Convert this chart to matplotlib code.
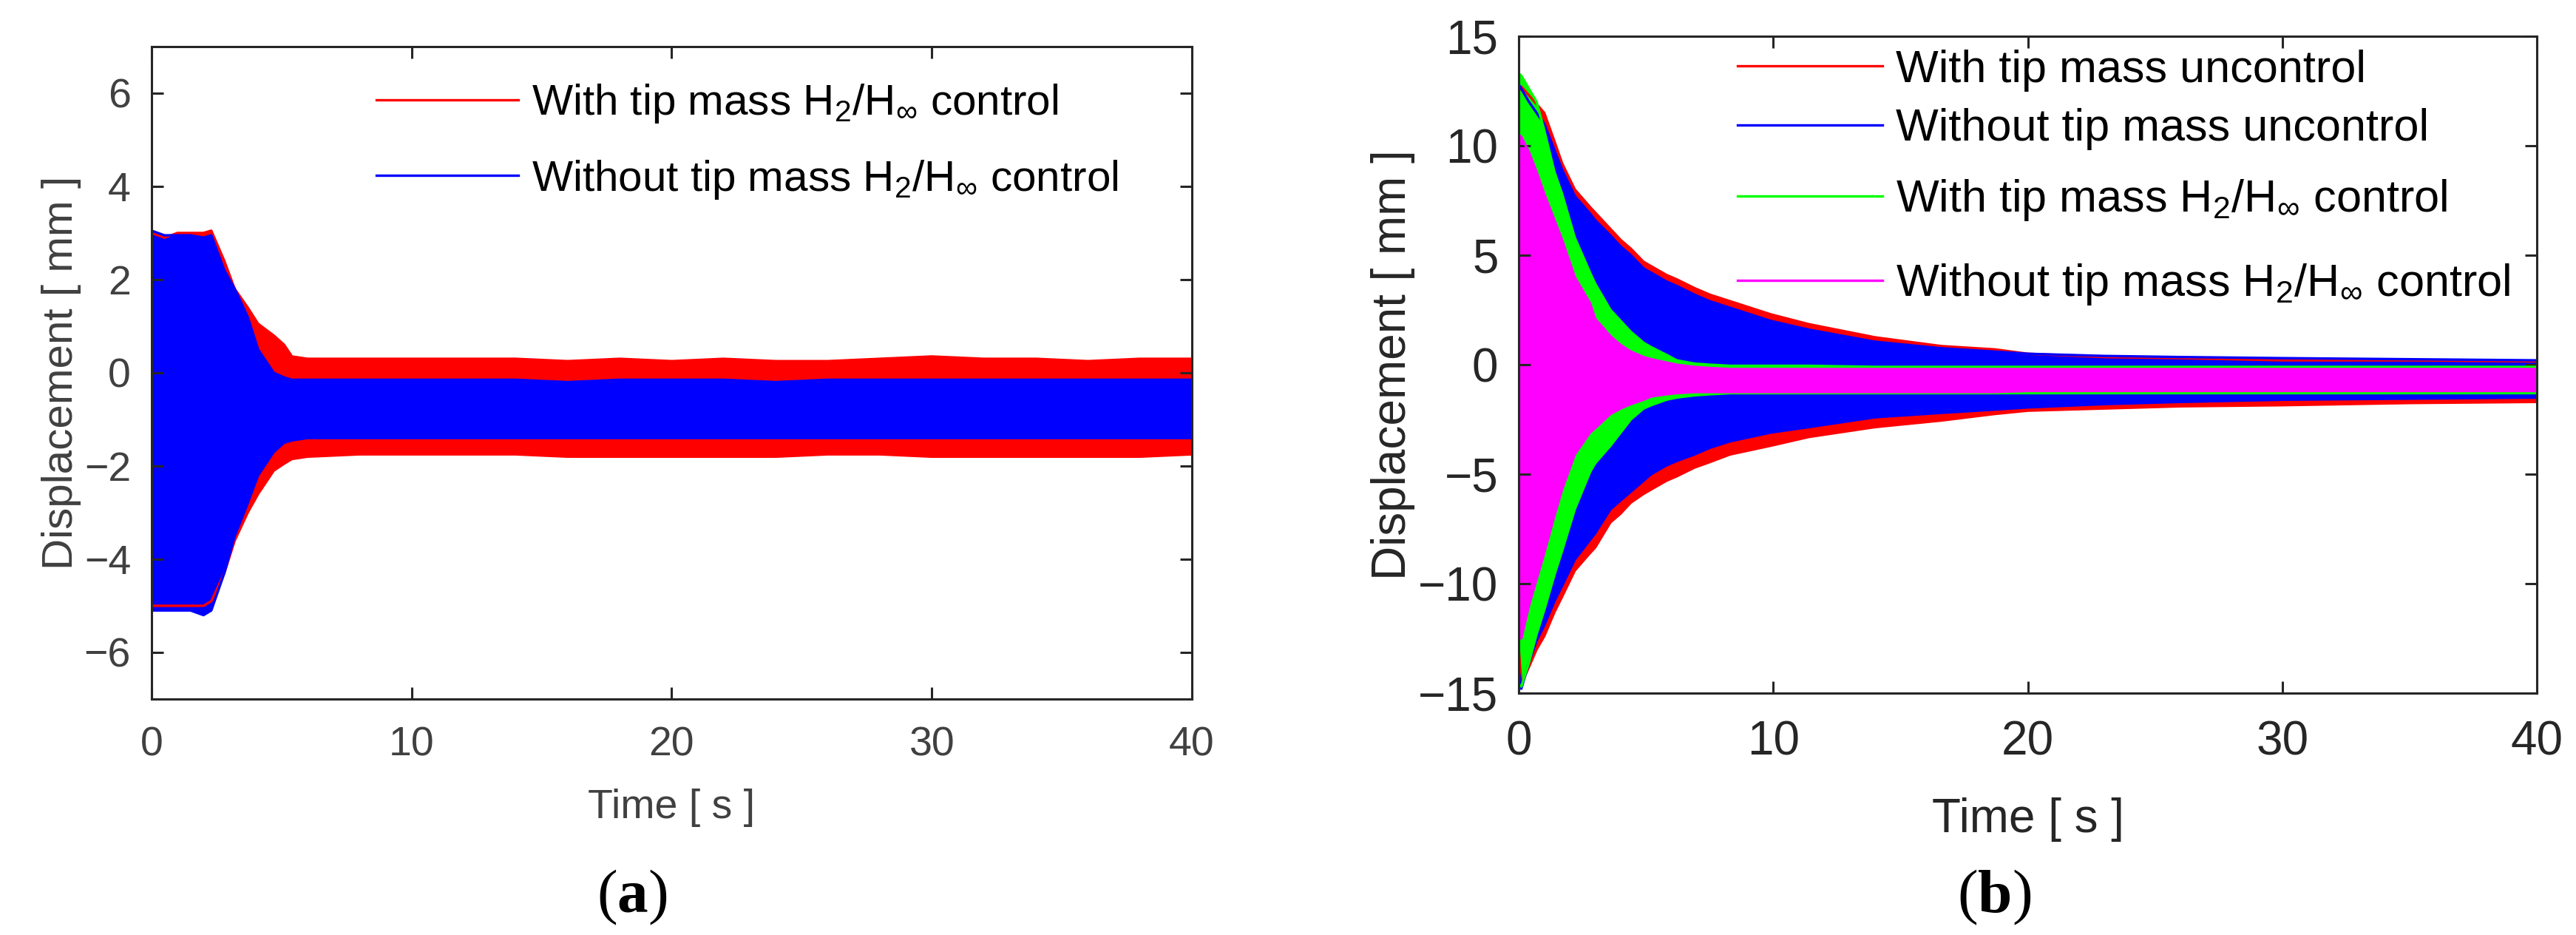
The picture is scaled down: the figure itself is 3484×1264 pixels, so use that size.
import numpy as np
import matplotlib
matplotlib.use("Agg")
import matplotlib.pyplot as plt

plt.rcParams['font.family'] = ['Liberation Sans', 'DejaVu Sans']
plt.rcParams['mathtext.fontset'] = 'custom'
plt.rcParams['mathtext.rm'] = 'Liberation Sans'
plt.rcParams['mathtext.it'] = 'Liberation Sans:italic'
plt.rcParams['mathtext.bf'] = 'Liberation Serif:bold'

# ---- panel (a): envelopes of the controlled responses ----
t_a = [0, 0.5, 1.0, 1.5, 2.0, 2.3, 2.8, 3.2, 3.7, 4.1, 4.7, 5.1, 5.4, 6, 8, 10,
       12, 14, 16, 18, 20, 22, 24, 26, 28, 30, 32, 34, 36, 38, 40]
red_a_hi = [3.0, 2.9, 3.0, 3.0, 3.0, 3.05, 2.4, 1.8, 1.4, 1.05, 0.8, 0.6, 0.35, 0.3, 0.3, 0.3,
            0.3, 0.3, 0.25, 0.3, 0.25, 0.3, 0.25, 0.25, 0.3, 0.35, 0.3, 0.3, 0.25, 0.3, 0.3]
red_a_lo = [-5.0, -5.0, -5.0, -5.0, -5.0, -4.9, -4.3, -3.6, -3.0, -2.6, -2.1, -1.95, -1.85, -1.8, -1.75, -1.75,
            -1.75, -1.75, -1.8, -1.8, -1.8, -1.8, -1.8, -1.75, -1.75, -1.8, -1.8, -1.8, -1.8, -1.8, -1.75]
blue_a_hi = [3.05, 2.95, 2.95, 2.95, 2.9, 2.95, 2.2, 1.8, 1.2, 0.5, 0.0, -0.1, -0.15, -0.15, -0.15, -0.15,
             -0.15, -0.15, -0.2, -0.15, -0.15, -0.15, -0.2, -0.15, -0.15, -0.15, -0.15, -0.15, -0.15, -0.15, -0.15]
blue_a_lo = [-5.1, -5.1, -5.1, -5.1, -5.2, -5.1, -4.3, -3.5, -2.8, -2.2, -1.7, -1.5, -1.45, -1.4, -1.4, -1.4,
             -1.4, -1.4, -1.4, -1.4, -1.4, -1.4, -1.4, -1.4, -1.4, -1.4, -1.4, -1.4, -1.4, -1.4, -1.4]

# ---- panel (b): envelopes of the four responses ----
t_b = [0, 0.1, 0.4, 0.7, 1.0, 1.4, 1.7, 2.2, 2.8, 3.0, 3.6, 4.0, 4.4, 4.9, 5.2, 5.8,
       6.2, 6.9, 7.5, 8.3, 9.9, 11.4, 14, 16.6, 18.7, 20, 23, 26, 30, 35, 40]
red_b_hi = [12.5, 12.7, 12.3, 11.9, 11.5, 10.2, 9.2, 8.0, 7.2, 6.95, 6.2, 5.7, 5.3, 4.7, 4.5, 4.1,
            3.9, 3.5, 3.2, 2.9, 2.3, 1.85, 1.25, 0.85, 0.7, 0.5, 0.35, 0.3, 0.2, 0.2, 0.15]
red_b_lo = [-13.0, -14.6, -13.8, -13.0, -12.4, -11.3, -10.6, -9.4, -8.6, -8.35, -7.2, -6.8, -6.3, -5.9, -5.7, -5.3,
            -5.1, -4.7, -4.45, -4.1, -3.7, -3.3, -2.85, -2.55, -2.25, -2.1, -2.0, -1.9, -1.85, -1.75, -1.7]
blue_b_hi = [12.8, 12.6, 12.0, 11.5, 11.0, 9.8, 8.9, 7.7, 6.9, 6.6, 5.9, 5.4, 5.0, 4.4, 4.2, 3.8,
             3.6, 3.2, 2.9, 2.6, 2.0, 1.6, 1.05, 0.75, 0.6, 0.5, 0.4, 0.35, 0.3, 0.25, 0.2]
blue_b_lo = [-14.0, -14.8, -13.6, -12.6, -11.9, -10.8, -10.1, -8.9, -8.0, -7.7, -6.6, -6.2, -5.8, -5.3, -5.0, -4.6,
             -4.4, -4.1, -3.8, -3.5, -3.1, -2.85, -2.4, -2.2, -2.05, -1.95, -1.8, -1.7, -1.6, -1.55, -1.5]
green_b_hi = [13.3, 13.2, 12.6, 12.0, 10.7, 8.8, 7.8, 5.8, 4.2, 3.7, 2.5, 2.0, 1.5, 1.0, 0.8, 0.45,
              0.2, 0.05, 0.0, -0.05, -0.05, -0.05, -0.1, -0.1, -0.1, -0.1, -0.1, -0.1, -0.1, -0.1, -0.1]
green_b_lo = [-14.6, -14.7, -13.6, -12.3, -11.2, -9.6, -8.5, -6.6, -4.9, -4.5, -3.7, -3.1, -2.5, -2.0, -1.85, -1.6,
              -1.5, -1.4, -1.35, -1.3, -1.3, -1.3, -1.3, -1.3, -1.3, -1.3, -1.3, -1.3, -1.3, -1.3, -1.3]
mag_b_hi = [10.5, 10.4, 9.7, 8.8, 7.8, 6.6, 5.7, 4.0, 2.8, 2.1, 1.3, 0.9, 0.6, 0.35, 0.25, 0.1,
            0.0, -0.1, -0.15, -0.2, -0.2, -0.2, -0.2, -0.2, -0.2, -0.2, -0.2, -0.2, -0.2, -0.2, -0.2]
mag_b_lo = [-12.5, -12.5, -11.0, -9.8, -8.6, -6.9, -5.7, -4.1, -3.1, -2.9, -2.25, -2.0, -1.8, -1.6, -1.45, -1.35,
            -1.3, -1.25, -1.25, -1.25, -1.25, -1.25, -1.25, -1.25, -1.25, -1.2, -1.2, -1.2, -1.2, -1.2, -1.2]

H = r'H$_2$/H$_\infty$'
labels_a = ['With tip mass ' + H + ' control', 'Without tip mass ' + H + ' control']
labels_b = ['With tip mass uncontrol', 'Without tip mass uncontrol',
            'With tip mass ' + H + ' control', 'Without tip mass ' + H + ' control']


def band(ax, t, lo, hi, color, label):
    ax.fill_between(t, lo, hi, color=color, lw=0)
    line, = ax.plot(t, hi, color=color, lw=1.2, label=label)
    ax.plot(t, lo, color=color, lw=1.2)
    return line


def style(ax, fs, tick_color):
    ax.set_xlim(0, 40)
    ax.set_xticks([0, 10, 20, 30, 40])
    ax.tick_params(direction='in', top=True, right=True, length=5.8, width=1.1,
                   color='#262626', labelcolor=tick_color, labelsize=fs)
    ax.tick_params(axis='x', pad=13)
    ax.tick_params(axis='y', pad=10)
    for s in ax.spines.values():
        s.set_linewidth(1.1)
        s.set_color('#262626')


fig = plt.figure(figsize=(17.42, 6.32), dpi=200)
ax1 = fig.add_axes([0.0588, 0.2524, 0.4039, 0.6978])
ax2 = fig.add_axes([0.5896, 0.2587, 0.3952, 0.7025])

# (a)
h1 = band(ax1, t_a, red_a_lo, red_a_hi, (1, 0, 0), labels_a[0])
h2 = band(ax1, t_a, blue_a_lo, blue_a_hi, (0, 0, 1), labels_a[1])
style(ax1, 20, '#404040')
ax1.set_ylim(-7, 7)
ax1.set_yticks([-6, -4, -2, 0, 2, 4, 6])
ax1.set_xlabel('Time [ s ]', fontsize=20, color='#404040', labelpad=12)
ax1.set_ylabel('Displacement [ mm ]', fontsize=21, color='#404040', labelpad=1.5)
ax1.legend(handles=[h1, h2], loc='upper left', bbox_to_anchor=(0.216, 0.945),
           frameon=False, fontsize=21, handlelength=3.3, handletextpad=0.3,
           labelspacing=0.76, borderpad=0, borderaxespad=0)

# (b)
g1 = band(ax2, t_b, red_b_lo, red_b_hi, (1, 0, 0), labels_b[0])
g2 = band(ax2, t_b, blue_b_lo, blue_b_hi, (0, 0, 1), labels_b[1])
g3 = band(ax2, t_b, green_b_lo, green_b_hi, (0, 1, 0), labels_b[2])
g4 = band(ax2, t_b, mag_b_lo, mag_b_hi, (1, 0, 1), labels_b[3])
style(ax2, 23, '#262626')
ax2.set_ylim(-15, 15)
ax2.set_yticks([-15, -10, -5, 0, 5, 10, 15])
ax2.set_xlabel('Time [ s ]', fontsize=23, color='#262626', labelpad=16)
ax2.set_ylabel('Displacement [ mm ]', fontsize=23, color='#262626', labelpad=1.5)
leg_top = ax2.legend(handles=[g1, g2], loc='upper left', bbox_to_anchor=(0.215, 0.98),
                     frameon=False, fontsize=22, handlelength=3.2, handletextpad=0.3,
                     labelspacing=0.37, borderpad=0, borderaxespad=0)
ax2.add_artist(leg_top)
ax2.legend(handles=[g3, g4], loc='upper left', bbox_to_anchor=(0.215, 0.785),
           frameon=False, fontsize=22, handlelength=3.2, handletextpad=0.3,
           labelspacing=0.87, borderpad=0, borderaxespad=0)

fig.text(0.2454, 0.0403, r'($\mathbf{a}$)', ha='center', va='center',
         fontsize=30, family='Liberation Serif')
fig.text(0.7741, 0.0403, r'($\mathbf{b}$)', ha='center', va='center',
         fontsize=30, family='Liberation Serif')

fig.savefig('out.png', dpi=200)
